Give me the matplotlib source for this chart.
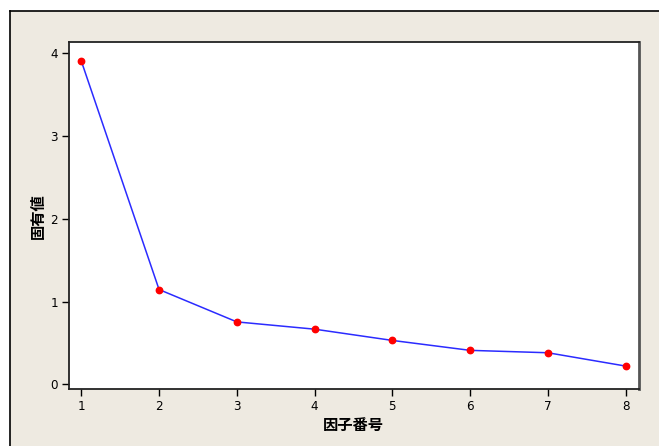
import matplotlib
matplotlib.use("Agg")
import matplotlib.pyplot as plt
from matplotlib.patches import Rectangle
from matplotlib.lines import Line2D

factor_no = [1, 2, 3, 4, 5, 6, 7, 8]
eigenvalues = [3.907, 1.145, 0.754, 0.666, 0.530, 0.410, 0.381, 0.220]
yticks = [0, 1, 2, 3, 4]
xlabel = "因子番号"
ylabel = "固有値"

W, H = 659, 446
fig = plt.figure(figsize=(W / 100, H / 100), dpi=100)
fig.patch.set_facecolor("white")

bg = "#EEEAE1"
fig.add_artist(Rectangle((9.5 / W, 0), 1, 1 - 10.5 / H, transform=fig.transFigure,
                         facecolor=bg, edgecolor="none", zorder=0))
fig.add_artist(Line2D([9.5 / W, 9.5 / W], [0, 1 - 10.5 / H], transform=fig.transFigure,
                      color="black", lw=1.2))
fig.add_artist(Line2D([9.5 / W, 1], [1 - 10.5 / H, 1 - 10.5 / H], transform=fig.transFigure,
                      color="black", lw=1.2))

ax = fig.add_axes([69 / W, (H - 389) / H, (638.5 - 69) / W, (389 - 41.7) / H])
ax.set_facecolor("white")
ax.plot(factor_no, eigenvalues, color="#2B2BFF", lw=1.1, zorder=2)
ax.plot(factor_no, eigenvalues, linestyle="none", marker="o", color="#FF0000",
        markersize=4.6, zorder=3)

ax.set_xlim(0.842, 8.165)
ax.set_ylim(-0.057, 4.14)
ax.set_xticks(factor_no)
ax.set_yticks(yticks)

tickfont = ["DejaVu Sans"]
ax.set_xticklabels([str(v) for v in factor_no], family=tickfont, fontsize=9.5,
                   fontstretch="condensed")
ax.set_yticklabels([str(v) for v in yticks], family=tickfont, fontsize=9.5,
                   fontstretch="condensed")
ax.tick_params(direction="out", length=5, width=1, color="black", pad=3)
ax.tick_params(top=False, right=False)

for side in ["left", "bottom", "top"]:
    ax.spines[side].set_color("#222222")
    ax.spines[side].set_linewidth(1.3)
ax.spines["right"].set_color("#555555")
ax.spines["right"].set_linewidth(2.0)

jp = ["Noto Sans CJK JP", "DejaVu Sans"]
fig.text(353 / W, 1 - 425 / H, xlabel, family=jp, fontweight="bold", fontsize=11,
         ha="center", va="center")
fig.text(38 / W, 1 - 216 / H, ylabel, family=jp, fontweight="bold", fontsize=11,
         ha="center", va="center", rotation=90)

fig.savefig("out.png", dpi=100, facecolor=fig.get_facecolor())
